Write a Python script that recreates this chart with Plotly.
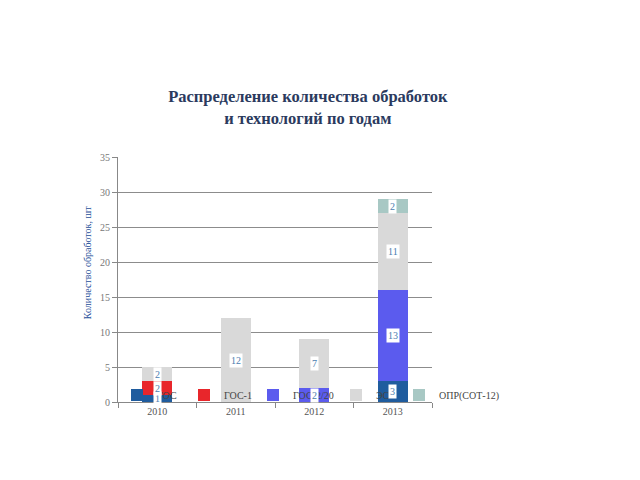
import plotly.graph_objects as go

years = ["2010", "2011", "2012", "2013"]
series_names = ["ГОС", "ГОС-1", "ГОС-2/20", "ЭС", "ОПР(СОТ-12)"]
gos = [1, 0, 0, 3]
gos1 = [2, 0, 0, 0]
gos2 = [0, 0, 2, 13]
es = [2, 12, 7, 11]
opr = [0, 0, 0, 2]
colors = ["#1F5C9E", "#E8262B", "#5B5BEE", "#D9D9D9", "#A8C8C4"]
y_ticks = [0, 5, 10, 15, 20, 25, 30, 35]

all_series = [gos, gos1, gos2, es, opr]
xpos = list(range(len(years)))

# legend placement (pixel x of legend symbol centres)
PLOT_L, PLOT_W = 118, 314
legend_sq_px = [136, 203, 272, 355, 418]
legend_keys = ["legend", "legend2", "legend3", "legend4", "legend5"]

fig = go.Figure()
for name, vals, col, lk in zip(series_names, all_series, colors, legend_keys):
    fig.add_trace(go.Bar(x=xpos, y=vals, name=name, marker_color=col,
                         marker_line_width=0, width=0.38, legend=lk))

annotations = []
cum = [0] * len(years)
for vals in all_series:
    for i, v in enumerate(vals):
        if v > 0:
            annotations.append(dict(x=xpos[i], y=cum[i] + v / 2, xref="x", yref="y",
                                    text=str(v), showarrow=False,
                                    font=dict(family="Liberation Serif", size=10, color="#4A7DB0"),
                                    bgcolor="white", borderpad=1))
            cum[i] += v

annotations.append(dict(text="Количество обработок, шт", xref="paper", yref="paper",
                        x=-0.12, y=0.57, textangle=-90, showarrow=False,
                        font=dict(family="Liberation Serif", size=10, color="#1F4E99")))

legend_layout = {}
for lk, px in zip(legend_keys, legend_sq_px):
    legend_layout[lk] = dict(orientation="h", x=(px - 19 - PLOT_L) / PLOT_W, y=0.0286,
                             xanchor="left", yanchor="middle",
                             bgcolor="rgba(0,0,0,0)",
                             font=dict(family="Liberation Serif", size=10, color="#444"),
                             itemwidth=30)

fig.update_layout(
    width=640, height=480,
    paper_bgcolor="white", plot_bgcolor="white",
    margin=dict(l=118, r=208, t=157, b=78),
    barmode="stack",
    title=dict(text="<b>Распределение количества обработок<br>и технологий по годам</b>",
               x=0.481, xanchor="center", y=0.787, yanchor="middle",
               font=dict(family="Liberation Serif", size=16.5, color="#2B3A5E")),
    showlegend=True,
    annotations=annotations,
    **legend_layout,
)
fig.update_xaxes(range=[-0.5, 3.5], tickvals=xpos, ticktext=years, ticks="",
                 showline=True, linecolor="#888", linewidth=1, showgrid=False,
                 minor=dict(tick0=-0.5, dtick=1, ticks="outside", ticklen=5, tickcolor="#888", showgrid=False),
                 tickfont=dict(family="Liberation Serif", size=10, color="#555"), zeroline=False)
fig.update_yaxes(range=[0, 35], tickvals=y_ticks, ticks="outside", ticklen=5, tickcolor="#888",
                 showline=True, linecolor="#888", linewidth=1, showgrid=True, gridcolor="#8C8C8C",
                 gridwidth=1, zeroline=False,
                 tickfont=dict(family="Liberation Serif", size=10, color="#777"))

fig.write_html("out.html")
